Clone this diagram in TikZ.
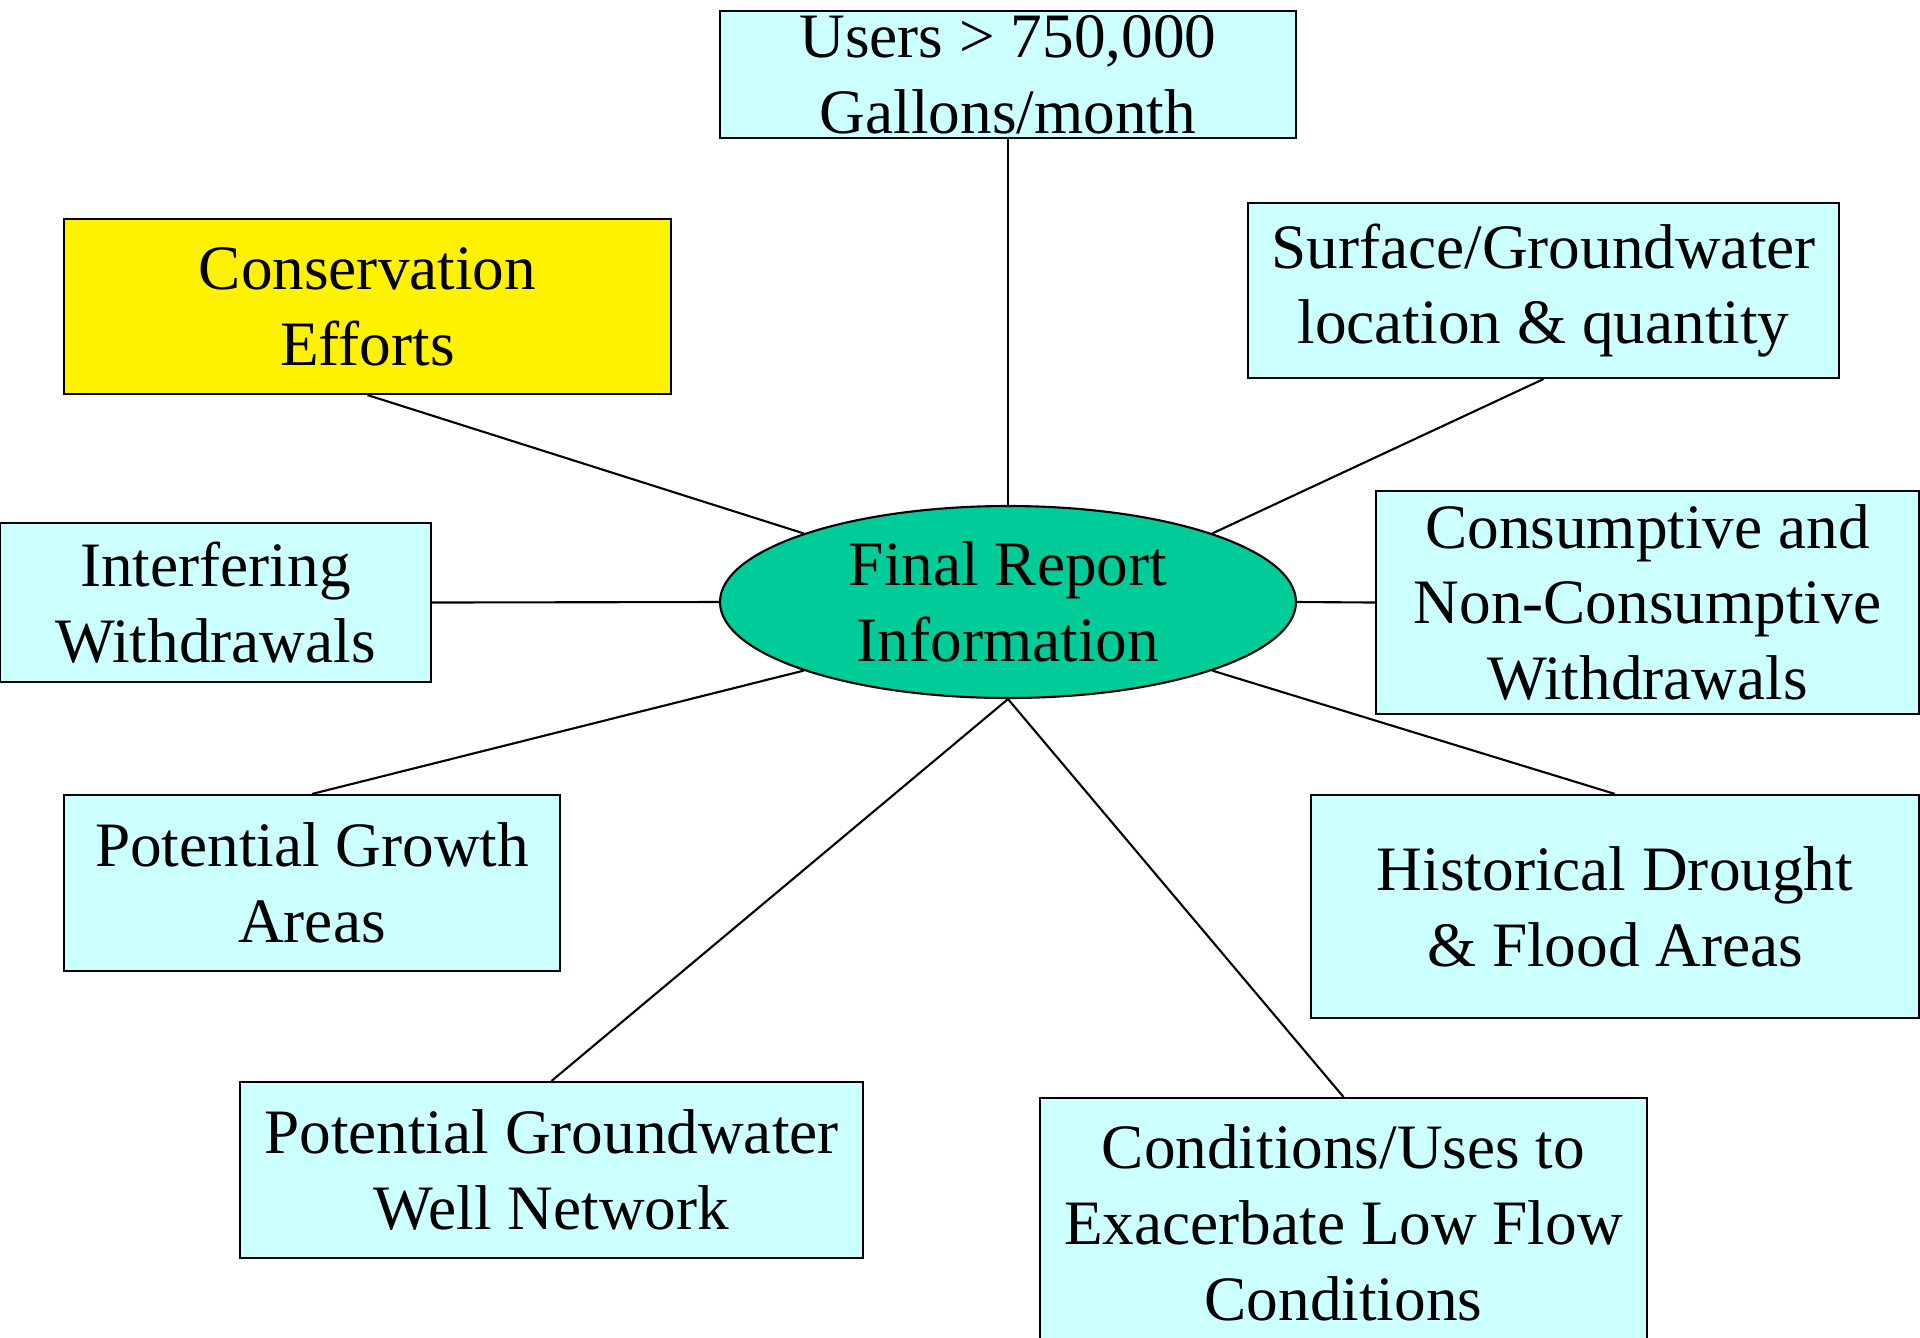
\documentclass[tikz,border=0pt]{standalone}
\usepackage{fontspec}
\setmainfont{Liberation Serif}
\usetikzlibrary{shapes.geometric}
\definecolor{boxcyan}{HTML}{CCFFFF}
\definecolor{hubgreen}{HTML}{00CC99}
\tikzset{
  infobox/.style={draw, fill=boxcyan, line width=0.6pt, align=center, inner sep=0pt,
    font=\fontsize{18}{21.6}\selectfont},
  hub/.style={ellipse, draw, fill=hubgreen, line width=0.6pt, align=center, inner sep=0pt,
    minimum width=57.6mm, minimum height=19.2mm, font=\fontsize{18}{21.6}\selectfont}
}
\begin{document}
\begin{tikzpicture}[x=0.1mm,y=-0.1mm,line width=0.6pt]
                \useasboundingbox (0,0) rectangle (1920,1337);
                % Centre
                \node[hub] (final) at (1008,602) {Final Report\\Information};
                
                % Boxes around
                \node[infobox, minimum width=57.6mm, minimum height=12.7mm] (users) at (1008,74.5) {Users > 750,000\\Gallons/month};
                \node[infobox, fill=yellow, minimum width=60.7mm, minimum height=17.5mm] (cons) at (367.5,306.5) {Conservation\\Efforts};
                \node[infobox, minimum width=59.1mm, minimum height=17.5mm] (surf) at (1543.5,290.5) {Surface/Groundwater\\location \& quantity};
                \node[infobox, minimum width=43.1mm, minimum height=15.9mm] (interf) at (215.5,602.5) {Interfering\\Withdrawals};
                \node[infobox, minimum width=54.3mm, minimum height=22.3mm] (consum) at (1647.5,602.5) {Consumptive and\\Non-Consumptive\\Withdrawals};
                \node[infobox, minimum width=49.6mm, minimum height=17.6mm] (growth) at (312,883) {Potential Growth\\Areas};
                \node[infobox, minimum width=60.8mm, minimum height=22.3mm] (hist) at (1615,906.5) {Historical Drought\\\& Flood Areas};
                \node[infobox, minimum width=62.3mm, minimum height=17.6mm] (wells) at (551.5,1170) {Potential Groundwater\\Well Network};
                \node[infobox, minimum width=60.7mm, minimum height=25mm] (cond) at (1343.5,1223) {Conditions/Uses to\\Exacerbate Low Flow\\Conditions};
                
                % Spokes
                \draw (final.north) -- (users.south);
                \draw (final.north west) -- (cons.south);
                \draw (final.north east) -- (surf.south);
                \draw (final.west) -- (interf.east);
                \draw (final.east) -- (consum.west);
                \draw (final.south west) -- (growth.north);
                \draw (final.south east) -- (hist.north);
                \draw (final.south) -- (wells.north);
                \draw (final.south) -- (cond.north);
              \end{tikzpicture}
\end{document}
